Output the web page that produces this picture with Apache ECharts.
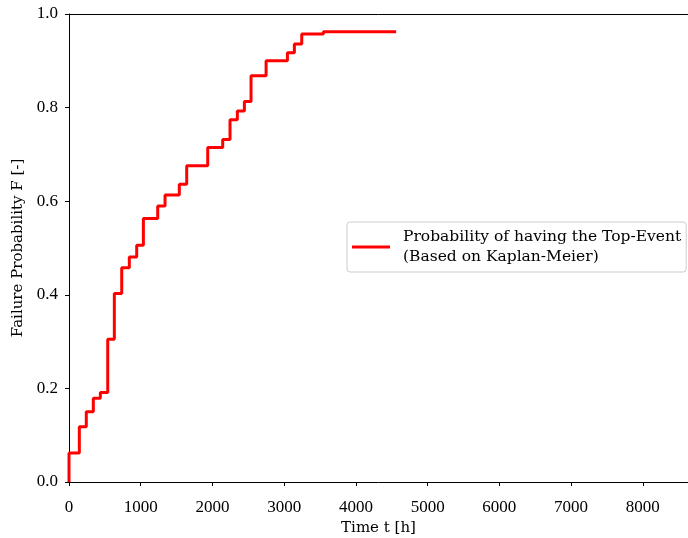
<!DOCTYPE html>
<html>
<head>
<meta charset="utf-8">
<script src="https://cdn.jsdelivr.net/npm/echarts@6/dist/echarts.min.js"></script>
<style>html,body{margin:0;padding:0;background:#fff}#c{width:688px;height:538px}</style>
</head>
<body>
<div id="c"></div>
<script>
var times = [0, 0, 144, 241, 339, 437, 540, 632, 735, 841, 944, 1037, 1237, 1339, 1538, 1641, 1934, 2143, 2245, 2347, 2445, 2538, 2748, 3045, 3142, 3245, 3547, 4561];
var probF = [0, 0.062, 0.118, 0.150, 0.179, 0.191, 0.305, 0.403, 0.458, 0.481, 0.506, 0.563, 0.590, 0.613, 0.636, 0.676, 0.715, 0.732, 0.774, 0.793, 0.813, 0.868, 0.900, 0.917, 0.936, 0.957, 0.962, 0.962];
var seriesName = 'Probability of having the Top-Event\n(Based on Kaplan-Meier)';
var xLabel = 'Time t [h]';
var yLabel = 'Failure Probability F [-]';

var textFont = 'DejaVu Serif';
var tickFont = 'Liberation Serif';
var data = times.map(function (t, i) { return [t, probF[i]]; });
var chart = echarts.init(document.getElementById('c'), null, {renderer: 'canvas'});
chart.setOption({
  animation: false,
  backgroundColor: '#fff',
  textStyle: {fontFamily: textFont},
  grid: {left: 69, right: 0, top: 14, bottom: 56, containLabel: false, outerBoundsMode: 'none'},
  legend: {
    left: 347, top: 222,
    data: [{name: seriesName}],
    orient: 'vertical',
    backgroundColor: '#fff',
    borderColor: '#cccccc', borderWidth: 1, borderRadius: 3,
    padding: [5, 5, 5, 5],
    itemWidth: 38, itemHeight: 3, itemGap: 0,
    icon: 'rect',
    textStyle: {fontFamily: textFont, fontSize: 15.5, color: '#000', lineHeight: 20, padding: [0, 0, 0, 8]}
  },
  xAxis: [{
    type: 'value', min: 0, max: 8630, interval: 1000,
    name: xLabel, nameLocation: 'middle', nameGap: 29,
    nameTextStyle: {fontFamily: textFont, fontSize: 15, color: '#000', verticalAlign: 'top'},
    axisLine: {show: true, lineStyle: {color: '#000', width: 1}},
    axisTick: {show: true, inside: false, length: 4, lineStyle: {color: '#000'}},
    axisLabel: {fontFamily: tickFont, fontSize: 17, color: '#000', margin: 17, showMaxLabel: false,
      formatter: function (v) { return String(v); }},
    splitLine: {show: false}
  }, {
    type: 'value', position: 'top', min: 0, max: 8630,
    axisLine: {show: true, onZero: false, lineStyle: {color: '#000', width: 1}},
    axisTick: {show: false}, axisLabel: {show: false}, splitLine: {show: false}
  }],
  yAxis: {
    type: 'value', min: 0, max: 1, interval: 0.2,
    name: yLabel, nameLocation: 'middle', nameGap: 42,
    nameTextStyle: {fontFamily: textFont, fontSize: 15, color: '#000'},
    axisLine: {show: true, lineStyle: {color: '#000', width: 1}},
    axisTick: {show: true, inside: false, length: 4, lineStyle: {color: '#000'}},
    axisLabel: {fontFamily: tickFont, fontSize: 17, color: '#000', margin: 11,
      formatter: function (v) { return v.toFixed(1); }},
    splitLine: {show: false}
  },
  series: [{
    name: seriesName, type: 'line', step: 'end', data: data,
    xAxisIndex: 0,
    showSymbol: false, symbol: 'none',
    lineStyle: {color: '#ff0000', width: 3},
    itemStyle: {color: '#ff0000'}
  }]
});
</script>
</body>
</html>
